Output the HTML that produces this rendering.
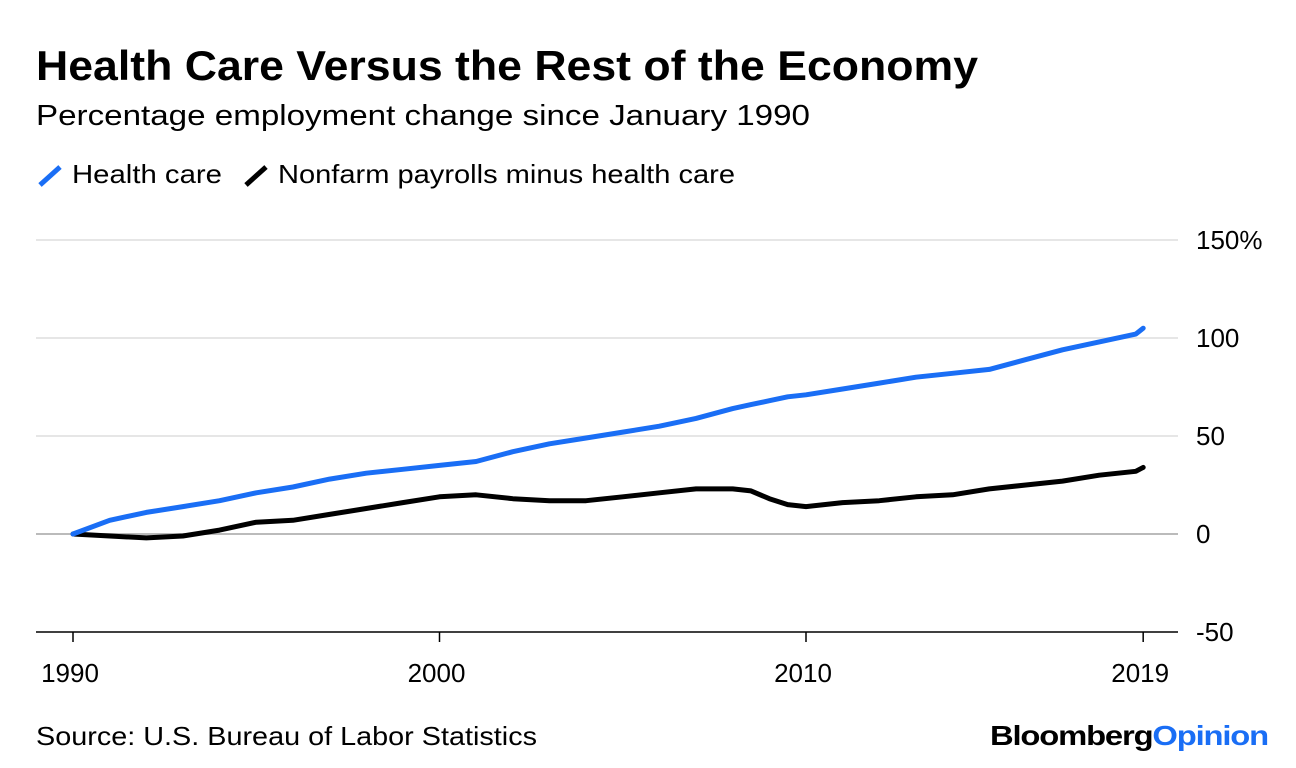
<!DOCTYPE html>
<html><head><meta charset="utf-8"><style>
body{margin:0;background:#fff;width:1296px;height:768px;overflow:hidden;font-family:"Liberation Sans",sans-serif;}
svg{position:absolute;left:0;top:0}
</style></head><body>
<svg width="1296" height="768">
<text x="36" y="80" font-size="42" font-weight="bold" fill="#000" textLength="942" lengthAdjust="spacingAndGlyphs">Health Care Versus the Rest of the Economy</text>
<text x="36" y="125" font-size="29" fill="#000" textLength="774" lengthAdjust="spacingAndGlyphs">Percentage employment change since January 1990</text>
<g>
<g><line x1="40" y1="185" x2="60" y2="167" stroke="#1a6ef5" stroke-width="5"/><text x="72" y="183" font-size="26" textLength="150" lengthAdjust="spacingAndGlyphs">Health care</text></g>
<g><line x1="246" y1="185" x2="266" y2="167" stroke="#000" stroke-width="5"/><text x="278" y="183" font-size="26" textLength="457" lengthAdjust="spacingAndGlyphs">Nonfarm payrolls minus health care</text></g>
</g>
<g id="grid"></g><g id="series"></g><g id="xaxis"></g>
<text x="36" y="745" font-size="26" textLength="501" lengthAdjust="spacingAndGlyphs">Source: U.S. Bureau of Labor Statistics</text>
<text x="990" y="745" font-size="28" font-weight="bold" textLength="278" lengthAdjust="spacingAndGlyphs" letter-spacing="-1">Bloomberg<tspan fill="#1a6ef5">Opinion</tspan></text>
</svg>
<script>
const years=[1990,1991,1992,1993,1994,1995,1996,1997,1998,1999,2000,2001,2002,2003,2004,2005,2006,2007,2008,2008.5,2009,2009.5,2010,2011,2012,2013,2014,2015,2016,2017,2018,2019,2019.2];
const healthCare=[0,7,11,14,17,21,24,28,31,33,35,37,42,46,49,52,55,59,64,66,68,70,71,74,77,80,82,84,89,94,98,102,105];
const nonfarmMinusHealth=[0,-1,-2,-1,2,6,7,10,13,16,19,20,18,17,17,19,21,23,23,22,18,15,14,16,17,19,20,23,25,27,30,32,34];
const yTicks=[150,100,50,0,-50];
const yTickLabels=["150%","100","50","0","-50"];
const xTicks=[1990,2000,2010,2019.2];
const xTickLabels=["1990","2000","2010","2019"];
const NS="http://www.w3.org/2000/svg";
const xS=y=>73+(y-1990)*36.65;
const yS=v=>534-v*1.96;
function mk(t,a,p){const e=document.createElementNS(NS,t);for(const k in a)e.setAttribute(k,a[k]);p.appendChild(e);return e;}
const grid=document.getElementById('grid');
yTicks.forEach((v,i)=>{
 const l=mk('line',{x1:36,x2:1178,y1:yS(v),y2:yS(v),stroke:v===-50?'#000':(v===0?'#bbb':'#e6e6e6'),'stroke-width':v===-50?1.5:2},grid);
 
 
 const t=mk('text',{x:1196,y:yS(v)+9,'font-size':26},grid);t.textContent=yTickLabels[i];
 
 
});
const xa=document.getElementById('xaxis');
xTicks.forEach((v,i)=>{
 const l=mk('line',{x1:xS(v),x2:xS(v),y1:632,y2:642,stroke:'#000','stroke-width':1.5},xa);
 
 
 const t=mk('text',{x:xS(v)-3,y:682,'font-size':26,'text-anchor':'middle'},xa);t.textContent=xTickLabels[i];
 
 
});
const sg=document.getElementById('series');
function line(vals,color,name){
 const d=years.map((y,i)=>(i?'L':'M')+xS(y).toFixed(1)+','+yS(vals[i]).toFixed(1)).join('');
 const p=mk('path',{d:d,fill:'none',stroke:color,'stroke-width':5,'stroke-linejoin':'round','stroke-linecap':'round'},sg);
 
 
}
line(nonfarmMinusHealth,'#000','nonfarm-minus-health-line');
line(healthCare,'#1a6ef5','health-care-line');
</script>
</body></html>
